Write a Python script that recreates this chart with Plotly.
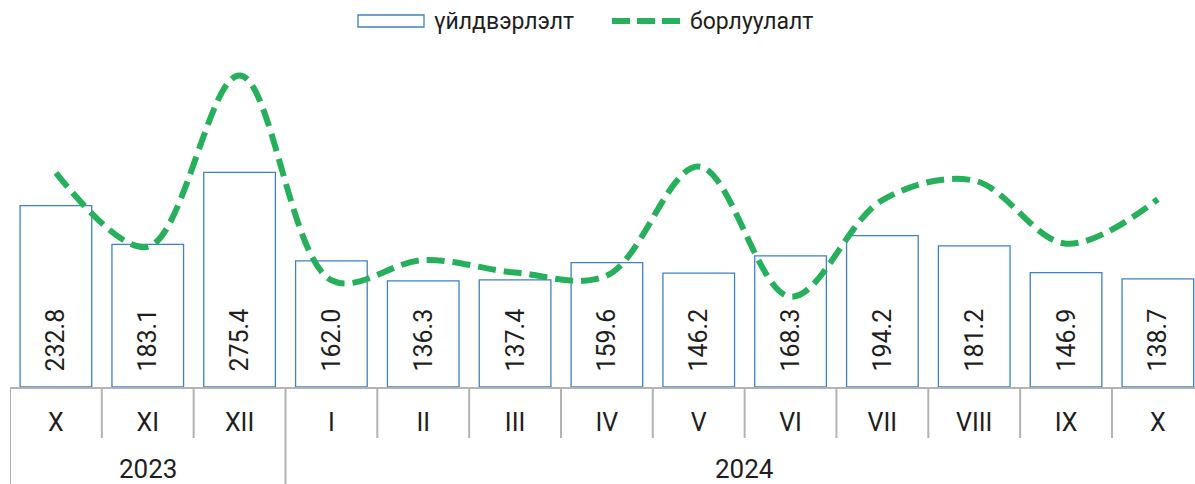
import plotly.graph_objects as go

years = ["2023", "2024"]
year_counts = [3, 10]
months = ["X", "XI", "XII", "I", "II", "III", "IV", "V", "VI", "VII", "VIII", "IX", "X"]
production = [232.8, 183.1, 275.4, 162.0, 136.3, 137.4, 159.6, 146.2, 168.3, 194.2, 181.2, 146.9, 138.7]
sales = [275, 180, 400, 137, 163, 147, 143, 283, 116, 240, 265, 184, 241]
series_names = ["үйлдвэрлэлт", "борлуулалт"]

FONT = "Roboto"
W, H = 1195, 484
ML, MR, MT, MB = 10, 0, 50, 97
PW, PH = W - ML - MR, H - MT - MB
BAR_LINE = "#3d82c4"
GREEN = "#27b05c"
GRAY = "#b3b3b3"
TXT = "#1e1e1e"


def px_x(p):
    return (p - ML) / PW


def px_y(p):
    return (H - MB - p) / PH


idx = list(range(len(months)))
pad = "\u00a0\u00a0"

fig = go.Figure()
fig.add_trace(go.Bar(
    x=idx, y=production, name=series_names[0], showlegend=False,
    marker=dict(color="white", line=dict(color=BAR_LINE, width=1.3)),
    text=[pad + f"{v:.1f}" for v in production],
    textposition="inside", insidetextanchor="start", textangle=-90,
    textfont=dict(family=FONT, size=25, color=TXT),
    constraintext="none", hoverinfo="skip",
))
fig.add_trace(go.Scatter(
    x=idx, y=sales, name=series_names[1], mode="lines", showlegend=False,
    line=dict(color=GREEN, width=6, dash="18px,8px", shape="spline", smoothing=1.0),
    hoverinfo="skip",
))

shapes = []
annotations = []
start = 0
boundaries = set()
for yname, cnt in zip(years, year_counts):
    boundaries.add(start)
    annotations.append(dict(
        x=start + (cnt - 1) / 2, xref="x", y=px_y(469), yref="paper",
        text=yname, showarrow=False, xanchor="center", yanchor="middle",
        font=dict(family=FONT, size=26, color=TXT),
    ))
    start += cnt
for i in range(len(months) + 1):
    y_end = px_y(H) if i in boundaries else px_y(438)
    shapes.append(dict(type="line", xref="x", yref="paper", x0=i - 0.5, x1=i - 0.5,
                       y0=0, y1=y_end, line=dict(color=GRAY, width=2)))

# custom legend
shapes.append(dict(type="rect", xref="paper", yref="paper",
                   x0=px_x(358), x1=px_x(424), y0=px_y(27), y1=px_y(15),
                   line=dict(color=BAR_LINE, width=1.3), fillcolor="white"))
shapes.append(dict(type="line", xref="paper", yref="paper",
                   x0=px_x(612), x1=px_x(680), y0=px_y(21), y1=px_y(21),
                   line=dict(color=GREEN, width=6, dash="18px,7px")))
annotations.append(dict(x=px_x(432), y=px_y(21), xref="paper", yref="paper",
                        text=series_names[0], showarrow=False, xanchor="left", yanchor="middle",
                        font=dict(family=FONT, size=23, color=TXT)))
annotations.append(dict(x=px_x(688), y=px_y(21), xref="paper", yref="paper",
                        text=series_names[1], showarrow=False, xanchor="left", yanchor="middle",
                        font=dict(family=FONT, size=23, color=TXT)))

fig.update_layout(
    width=W, height=H,
    margin=dict(l=ML, r=MR, t=MT, b=MB, autoexpand=False),
    plot_bgcolor="white", paper_bgcolor="white",
    bargap=0.22,
    font=dict(family=FONT, size=22, color=TXT),
    showlegend=False, hovermode=False,
    shapes=shapes, annotations=annotations,
)
fig.update_xaxes(
    range=[-0.5, -0.5 + PW / 91.83], tickmode="array", tickvals=idx, ticktext=months,
    showline=True, linecolor=GRAY, linewidth=2,
    tickfont=dict(family=FONT, size=25, color=TXT),
    ticks="", ticklabelstandoff=12, showgrid=False, zeroline=False, automargin=False,
)
fig.update_yaxes(range=[0, PH / 0.779], visible=False, showgrid=False, zeroline=False, automargin=False)

fig.write_html("out.html", config={"displayModeBar": False},
               post_script="document.body.style.margin='0';document.body.style.overflow='hidden';")
